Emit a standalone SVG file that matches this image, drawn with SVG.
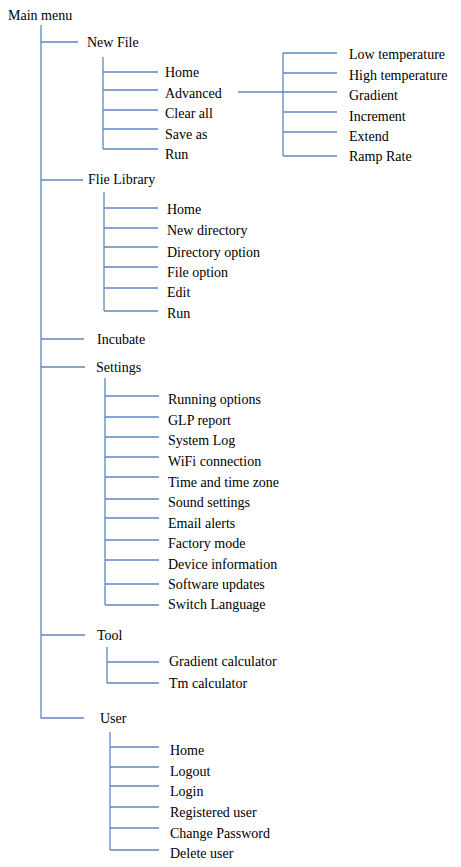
<svg xmlns="http://www.w3.org/2000/svg" width="461" height="867" viewBox="0 0 461 867">
<style>
text{font-family:"Liberation Serif","Times New Roman",serif;font-size:14px;fill:#000}
.c line{stroke:#5f86c2;stroke-width:1.3;fill:none}
</style>
<rect width="461" height="867" fill="#fff"/>
<g class="c" id="connectors">
<line x1="41" y1="25" x2="41" y2="718.5"/>
<line x1="41" y1="42" x2="78" y2="42"/>
<line x1="103" y1="57" x2="103" y2="149"/>
<line x1="103" y1="72" x2="158" y2="72"/>
<line x1="103" y1="90" x2="158" y2="90"/>
<line x1="103" y1="110" x2="158" y2="110"/>
<line x1="103" y1="129" x2="158" y2="129"/>
<line x1="103" y1="149" x2="158" y2="149"/>
<line x1="238" y1="92" x2="283" y2="92"/>
<line x1="283" y1="53" x2="283" y2="156"/>
<line x1="283" y1="53" x2="337" y2="53"/>
<line x1="283" y1="73" x2="337" y2="73"/>
<line x1="283" y1="92" x2="337" y2="92"/>
<line x1="283" y1="112" x2="337" y2="112"/>
<line x1="283" y1="132" x2="337" y2="132"/>
<line x1="283" y1="156" x2="337" y2="156"/>
<line x1="41" y1="180" x2="83" y2="180"/>
<line x1="104" y1="192" x2="104" y2="311"/>
<line x1="104" y1="208" x2="158" y2="208"/>
<line x1="104" y1="228" x2="158" y2="228"/>
<line x1="104" y1="247" x2="158" y2="247"/>
<line x1="104" y1="267" x2="158" y2="267"/>
<line x1="104" y1="288" x2="158" y2="288"/>
<line x1="104" y1="311" x2="158" y2="311"/>
<line x1="41" y1="339" x2="84" y2="339"/>
<line x1="41" y1="367" x2="85" y2="367"/>
<line x1="105" y1="378" x2="105" y2="605"/>
<line x1="105" y1="396" x2="159" y2="396"/>
<line x1="105" y1="417" x2="159" y2="417"/>
<line x1="105" y1="437" x2="159" y2="437"/>
<line x1="105" y1="457" x2="159" y2="457"/>
<line x1="105" y1="477" x2="159" y2="477"/>
<line x1="105" y1="499" x2="159" y2="499"/>
<line x1="105" y1="518" x2="159" y2="518"/>
<line x1="105" y1="540" x2="159" y2="540"/>
<line x1="105" y1="560" x2="159" y2="560"/>
<line x1="105" y1="584" x2="159" y2="584"/>
<line x1="105" y1="605" x2="159" y2="605"/>
<line x1="41" y1="635" x2="85" y2="635"/>
<line x1="107" y1="647" x2="107" y2="683"/>
<line x1="107" y1="662" x2="159" y2="662"/>
<line x1="107" y1="683" x2="159" y2="683"/>
<line x1="41" y1="718" x2="84" y2="718"/>
<line x1="110" y1="732" x2="110" y2="850"/>
<line x1="110" y1="747" x2="159" y2="747"/>
<line x1="110" y1="767" x2="159" y2="767"/>
<line x1="110" y1="786" x2="159" y2="786"/>
<line x1="110" y1="807" x2="159" y2="807"/>
<line x1="110" y1="828" x2="159" y2="828"/>
<line x1="110" y1="850" x2="159" y2="850"/>
</g>
<g id="main-menu"><text x="8" y="20">Main menu</text></g>
<g id="new-file"><text x="87" y="47">New File</text></g>
<g id="nf-home"><text x="165" y="77">Home</text></g>
<g id="nf-advanced"><text x="165" y="98">Advanced</text></g>
<g id="nf-clear"><text x="165" y="118">Clear all</text></g>
<g id="nf-save"><text x="165" y="139">Save as</text></g>
<g id="nf-run"><text x="165" y="159">Run</text></g>
<g id="adv-low"><text x="349" y="59">Low temperature</text></g>
<g id="adv-high"><text x="349" y="80">High temperature</text></g>
<g id="adv-gradient"><text x="349" y="100">Gradient</text></g>
<g id="adv-increment"><text x="349" y="121">Increment</text></g>
<g id="adv-extend"><text x="349" y="141">Extend</text></g>
<g id="adv-ramp"><text x="349" y="161">Ramp Rate</text></g>
<g id="flie-library"><text x="88" y="184">Flie Library</text></g>
<g id="fl-home"><text x="167" y="214">Home</text></g>
<g id="fl-newdir"><text x="167" y="235">New directory</text></g>
<g id="fl-diropt"><text x="167" y="257">Directory option</text></g>
<g id="fl-fileopt"><text x="167" y="277">File option</text></g>
<g id="fl-edit"><text x="167" y="297">Edit</text></g>
<g id="fl-run"><text x="167" y="318">Run</text></g>
<g id="incubate"><text x="97" y="344">Incubate</text></g>
<g id="settings"><text x="96" y="372">Settings</text></g>
<g id="s-running"><text x="168" y="404">Running options</text></g>
<g id="s-glp"><text x="168" y="425">GLP report</text></g>
<g id="s-syslog"><text x="168" y="445">System Log</text></g>
<g id="s-wifi"><text x="168" y="466">WiFi connection</text></g>
<g id="s-time"><text x="168" y="487">Time and time zone</text></g>
<g id="s-sound"><text x="168" y="507">Sound settings</text></g>
<g id="s-email"><text x="168" y="528">Email alerts</text></g>
<g id="s-factory"><text x="168" y="548">Factory mode</text></g>
<g id="s-device"><text x="168" y="569">Device information</text></g>
<g id="s-software"><text x="168" y="589">Software updates</text></g>
<g id="s-lang"><text x="168" y="609">Switch Language</text></g>
<g id="tool"><text x="97" y="640">Tool</text></g>
<g id="t-gradient"><text x="169" y="666">Gradient calculator</text></g>
<g id="t-tm"><text x="169" y="688">Tm calculator</text></g>
<g id="user"><text x="100" y="723">User</text></g>
<g id="u-home"><text x="170" y="755">Home</text></g>
<g id="u-logout"><text x="170" y="776">Logout</text></g>
<g id="u-login"><text x="170" y="796">Login</text></g>
<g id="u-registered"><text x="170" y="817">Registered user</text></g>
<g id="u-changepw"><text x="170" y="838">Change Password</text></g>
<g id="u-delete"><text x="170" y="858">Delete user</text></g>
</svg>
